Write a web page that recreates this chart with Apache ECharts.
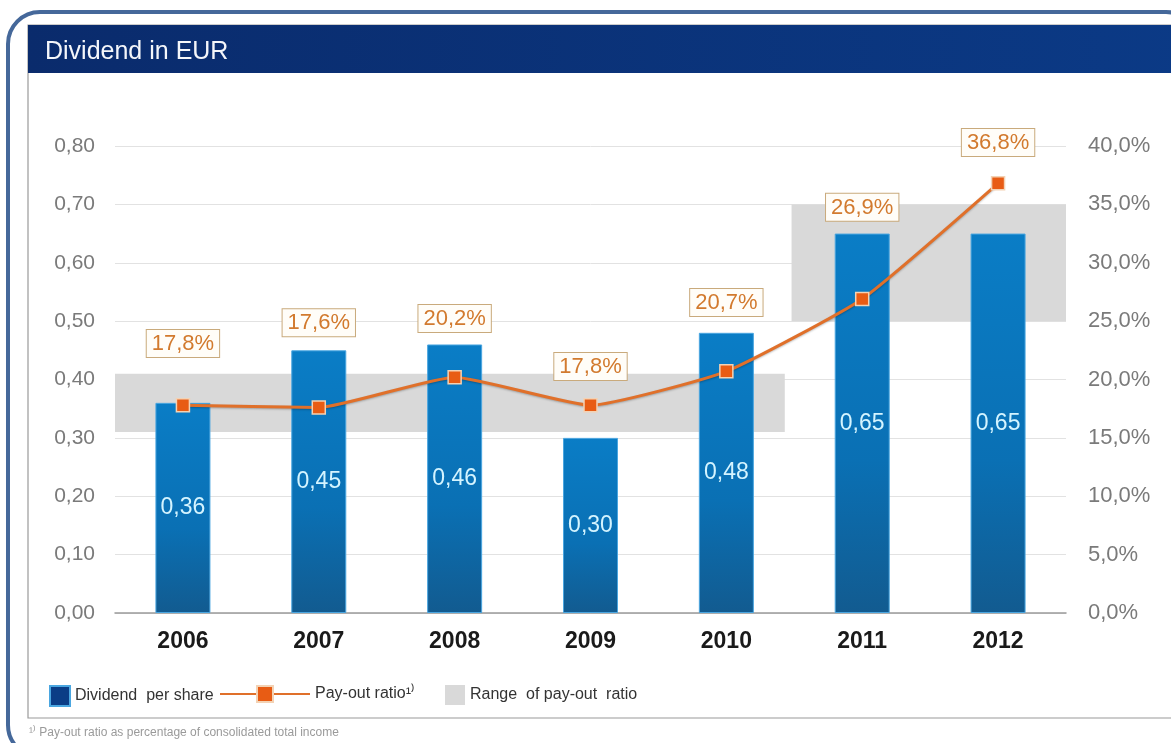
<!DOCTYPE html>
<html><head><meta charset="utf-8">
<script src="https://cdn.jsdelivr.net/npm/echarts@6/dist/echarts.min.js"></script>
<style>html,body{margin:0;padding:0;background:#fff}#c{width:1171px;height:743px}</style>
</head><body><div id="c"></div>
<script>
var years = ['2006','2007','2008','2009','2010','2011','2012'];
var dividend = [0.36, 0.45, 0.46, 0.30, 0.48, 0.65, 0.65];
var payout = [17.8, 17.6, 20.2, 17.8, 20.7, 26.9, 36.8];
var rangeStart = [-0.5, 4.48];
var rangeEnd = [4.43, 6.5];
var rangeLow = [15.5, 25.0];
var rangeHigh = [20.5, 35.0];
var leftTicks = [0, 0.8, 0.1];
var rightTicks = [0, 40, 5];
// label lift above each point (style only)
var labelLift = [64, 87, 61, 41, 71, 94, 43];

var rangeData = rangeStart.map(function(s, i){ return [s, rangeEnd[i], rangeLow[i], rangeHigh[i]]; });
var FONT = '"Liberation Sans", Arial, sans-serif';

var chart = echarts.init(document.getElementById('c'), null, {renderer:'canvas'});
chart.setOption({
  backgroundColor: '#ffffff',
  animation: false,
  textStyle: {fontFamily: FONT},
  title: {text: 'Dividend in EUR', left: 40, top: 35,
    textStyle: {color: '#f4f6fa', fontSize: 25, fontWeight: 'normal', fontFamily: FONT}},
  graphic: [
    {type:'rect', z:-1, shape:{x:8, y:12, width:1190, height:745, r:32},
      style:{fill:'none', stroke:'#45689a', lineWidth:4}},
    {type:'rect', z:-1, shape:{x:28, y:25, width:1160, height:693},
      style:{fill:'#ffffff', stroke:'#9a9a9a', lineWidth:1.2}},
    {type:'rect', z:0, shape:{x:28, y:25, width:1160, height:48},
      style:{fill:new echarts.graphic.LinearGradient(0,0,1,0,[{offset:0,color:'#0a2b6c'},{offset:1,color:'#0b3a86'}])}},
    {type:'text', z:1, left:29, top:727, style:{text:'¹⁾ Pay-out ratio as percentage of consolidated total income', fill:'#9a9a9a', fontSize:12, fontFamily:FONT}}
  ],
  legend: [
    {left:44, top:680, itemWidth:20, itemHeight:20, itemGap:6,
      textStyle:{fontSize:16, color:'#333'},
      data:[{name:'Dividend  per share', icon:'rect', itemStyle:{color:'#0b3d86'}}]},
    {left:214, top:680, itemWidth:90, itemHeight:20,
      textStyle:{fontSize:16, color:'#333'},
      data:[{name:'Pay-out ratio¹⁾'}]},
    {left:440, top:680, itemWidth:20, itemHeight:20,
      textStyle:{fontSize:16, color:'#333'},
      data:[{name:'Range  of pay-out  ratio', icon:'rect'}]}
  ],
  grid: {left:115, right:105, top:146, bottom:130},
  xAxis: [
    {type:'category', data: years, axisLine:{show:true, lineStyle:{color:'#9a9a9a', width:1.5}}, axisTick:{show:false},
      axisLabel:{fontSize:23, fontWeight:'bold', color:'#1a1a1a', margin:17}},
    {type:'value', min:-0.5, max:6.5, show:false}
  ],
  yAxis: [
    {type:'value', min:leftTicks[0], max:leftTicks[1], interval:leftTicks[2],
      axisLine:{show:false}, axisTick:{show:false},
      axisLabel:{fontSize:21, color:'#7a7a7a', margin:20, formatter:function(v){return v.toFixed(2).replace('.',',');}},
      splitLine:{lineStyle:{color:'#e2e2e2', width:1}}},
    {type:'value', min:rightTicks[0], max:rightTicks[1], interval:rightTicks[2],
      axisLine:{show:false}, axisTick:{show:false}, splitLine:{show:false},
      axisLabel:{fontSize:22, color:'#7a7a7a', margin:22, formatter:function(v){return v.toFixed(1).replace('.',',')+'%';}}}
  ],
  series: [
    {name:'Range  of pay-out  ratio', type:'custom', xAxisIndex:1, yAxisIndex:1, z:1,
      itemStyle:{color:'#d9d9d9'},
      renderItem:function(params, api){
        var p1 = api.coord([api.value(0), api.value(3)]);
        var p2 = api.coord([api.value(1), api.value(2)]);
        return {type:'rect', shape:{x:p1[0], y:p1[1], width:p2[0]-p1[0], height:p2[1]-p1[1]},
          style:{fill:'#d9d9d9'}};
      },
      data: rangeData},
    {name:'Dividend  per share', type:'bar', z:3, barWidth:55, data: dividend,
      itemStyle:{color:new echarts.graphic.LinearGradient(0,0,0,1,[{offset:0,color:'#0a7dc6'},{offset:0.6,color:'#0a70b4'},{offset:1,color:'#125b90'}]),
        borderColor:'#4aa6e0', borderWidth:1},
      label:{show:true, position:'inside', fontSize:23, color:'#d4f4ff',
        formatter:function(p){return p.value.toFixed(2).replace('.',',');}}},
    {name:'Pay-out ratio¹⁾', type:'line', yAxisIndex:1, z:5, smooth:0.15,
      symbol:'rect', symbolSize:13,
      lineStyle:{color:'#e0702a', width:3, shadowColor:'rgba(0,0,0,0.25)', shadowBlur:2, shadowOffsetY:1},
      itemStyle:{color:'#e85c14', borderColor:'#f3d2b4', borderWidth:1.5},
      data: payout.map(function(v, i){
        return {value:v, label:{show:true, position:'top', distance: labelLift[i]-23,
          fontSize:22, color:'#d27a2e', backgroundColor:'#fffdf8', borderColor:'#c9aa7c', borderWidth:1,
          padding:[3,5,2,5],
          formatter:function(p){return p.value.toFixed(1).replace('.',',')+'%';}}};
      })}
  ]
});
</script></body></html>
